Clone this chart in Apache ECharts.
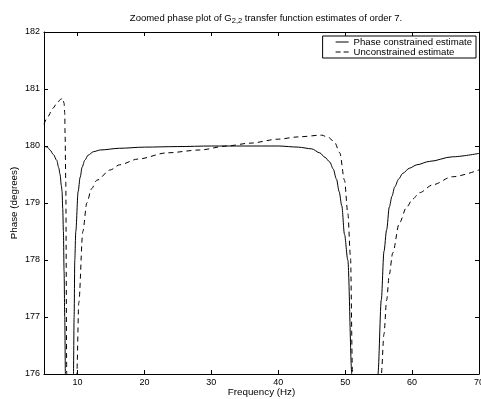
<!DOCTYPE html>
<html>
<head>
<meta charset="utf-8">
<script src="https://cdn.jsdelivr.net/npm/echarts@6/dist/echarts.min.js"></script>
<style>
  html, body { margin: 0; padding: 0; background: #fff; }
  #chart { width: 481px; height: 399px; }
</style>
</head>
<body>
<div id="chart"></div>
<script>
// 数据 (values below 176 only continue the dips and get clipped)
const xTicks = [10, 20, 30, 40, 50, 60, 70];
const yTicks = [176, 177, 178, 179, 180, 181, 182];

const freqSolid = [5.0, 5.5, 5.9, 6.4, 6.9, 7.2, 7.4, 7.6, 7.7, 7.8, 7.9, 8.0, 8.1, 8.2, 8.3,
  9.3, 9.4, 9.5, 9.6, 9.75, 10.1, 10.4, 10.7, 11.1, 11.6, 12.4, 13.4, 16.3, 20, 25, 30, 35, 40, 43, 45, 46.2,
  47.0, 47.7, 48.2, 48.7, 49.1, 49.5, 49.9, 50.4, 51.0, 51.1,
  54.8, 54.9, 55.4, 55.8, 56.2, 56.6, 57.0, 57.4, 58.0, 58.6, 59.6, 60.7, 62.6, 66, 70];
const phaseSolid = [180.0, 179.98, 179.93, 179.85, 179.75, 179.62, 179.5, 179.3, 179.2, 178.9, 178.5, 177.8, 177.0, 176.0, 173,
  173, 176.0, 177.0, 178.0, 178.5, 179.2, 179.45, 179.63, 179.75, 179.84, 179.9, 179.93, 179.96, 179.98, 179.99, 180.0, 180.0, 180.0, 179.98, 179.95, 179.88,
  179.8, 179.72, 179.6, 179.42, 179.2, 178.95, 178.45, 178.0, 176.0, 173,
  173, 176.0, 177.3, 178.15, 178.53, 178.93, 179.12, 179.28, 179.42, 179.52, 179.61, 179.67, 179.73, 179.81, 179.87];

const freqDashed = [5.0, 5.6, 6.3, 7.0, 7.5, 7.8, 8.0, 8.1, 8.15, 8.25, 8.4, 8.45,
  9.85, 9.9, 10.2, 10.8, 11.4, 12.1, 12.9, 14.9, 16.3, 19, 23.4, 28.3, 32.3, 35.8, 40, 43, 46.5,
  47.5, 48.4, 49.2, 49.9, 50.4, 50.8, 51.1, 51.2,
  55.3, 55.4, 55.8, 56.2, 56.6, 57.1, 58.1, 59.2, 60.1, 61.1, 63.1, 66, 70];
const phaseDashed = [180.38, 180.52, 180.66, 180.76, 180.82, 180.84, 180.75, 180.58, 180.2, 179.4, 176.0, 173,
  173, 176.0, 177.25, 178.5, 179.0, 179.25, 179.4, 179.58, 179.67, 179.77, 179.88, 179.93, 180.0, 180.05, 180.12, 180.16, 180.19,
  180.15, 180.07, 179.88, 179.4, 178.82, 178.05, 176.0, 173,
  173, 176.0, 176.7, 177.3, 177.75, 178.12, 178.65, 178.93, 179.07, 179.18, 179.32, 179.46, 179.58];

const seriesNames = ["Phase constrained estimate", "Unconstrained estimate"];

const font = "'Liberation Sans', Arial, Helvetica, sans-serif";
const zip = (xs, ys) => xs.map((x, i) => [x, ys[i]]);

const chart = echarts.init(document.getElementById("chart"));

const axisCommon = {
  axisLine: { show: true, onZero: false, lineStyle: { color: "#000", width: 1 } },
  splitLine: { show: false },
};

const option = {
  animation: false,
  backgroundColor: "#fff",
  textStyle: { fontFamily: font },
  title: {
    text: "Zoomed phase plot of G{sub|2,2} transfer function estimates of order 7.",
    left: 261,
    top: 6,
    textAlign: "center",
    textStyle: {
      fontFamily: font,
      fontSize: 9.5,
      fontWeight: "normal",
      color: "#000",
      rich: {
        sub: { fontSize: 7.5, verticalAlign: "bottom", padding: [6, 0, 0, 0], fontFamily: font, color: "#000" },
      },
    },
  },
  legend: {
    orient: "vertical",
    right: 5,
    top: 36,
    padding: [1, 4, 1, 13],
    itemGap: 0,
    itemWidth: 13,
    itemHeight: 9,
    borderColor: "#000",
    borderWidth: 1,
    backgroundColor: "#fff",
    textStyle: { fontFamily: font, fontSize: 9.6, color: "#000", lineHeight: 10 },
    data: [
      { name: seriesNames[0], icon: "path://M0,0H13V1H0Z" },
      { name: seriesNames[1], icon: "path://M0,0H5V1H0Z M8,0H13V1H8Z" },
    ],
  },
  grid: { left: 44, right: 2, top: 32, bottom: 25, outerBoundsMode: "none", containLabel: false },
  xAxis: [
    {
      ...axisCommon,
      type: "value",
      min: 5,
      max: 70,
      name: "Frequency (Hz)",
      nameLocation: "middle",
      nameGap: 13,
      nameMoveOverlap: false,
      nameTextStyle: { fontFamily: font, fontSize: 9.8, color: "#000" },
      axisTick: { inside: true, length: 4, customValues: xTicks, lineStyle: { color: "#000" } },
      axisLabel: { customValues: xTicks, margin: 4, fontSize: 9, color: "#000", fontFamily: font },
    },
    {
      ...axisCommon,
      type: "value",
      position: "top",
      min: 5,
      max: 70,
      axisTick: { inside: true, length: 4, customValues: xTicks, lineStyle: { color: "#000" } },
      axisLabel: { show: false },
    },
  ],
  yAxis: [
    {
      ...axisCommon,
      type: "value",
      min: 176,
      max: 182,
      interval: 1,
      name: "Phase (degrees)",
      nameLocation: "middle",
      nameGap: 25,
      nameMoveOverlap: false,
      nameTextStyle: { fontFamily: font, fontSize: 9.8, color: "#000" },
      axisTick: { inside: true, length: 4, customValues: yTicks, lineStyle: { color: "#000" } },
      axisLabel: { customValues: yTicks, margin: 4, fontSize: 9, color: "#000", fontFamily: font },
    },
    {
      ...axisCommon,
      type: "value",
      position: "right",
      min: 176,
      max: 182,
      interval: 1,
      axisTick: { inside: true, length: 4, lineStyle: { color: "#000" } },
      axisLabel: { show: false },
    },
  ],
  series: [
    {
      name: seriesNames[0],
      type: "line",
      data: zip(freqSolid, phaseSolid),
      showSymbol: false,
      symbol: "none",
      smooth: 0.3,
      smoothMonotone: "x",
      clip: true,
      color: "#000",
      lineStyle: { color: "#000", width: 1, type: "solid" },
    },
    {
      name: seriesNames[1],
      type: "line",
      data: zip(freqDashed, phaseDashed),
      showSymbol: false,
      symbol: "none",
      smooth: 0.3,
      smoothMonotone: "x",
      clip: true,
      color: "#000",
      lineStyle: { color: "#000", width: 1, type: [5, 4] },
    },
  ],
};

chart.setOption(option);
</script>
</body>
</html>
